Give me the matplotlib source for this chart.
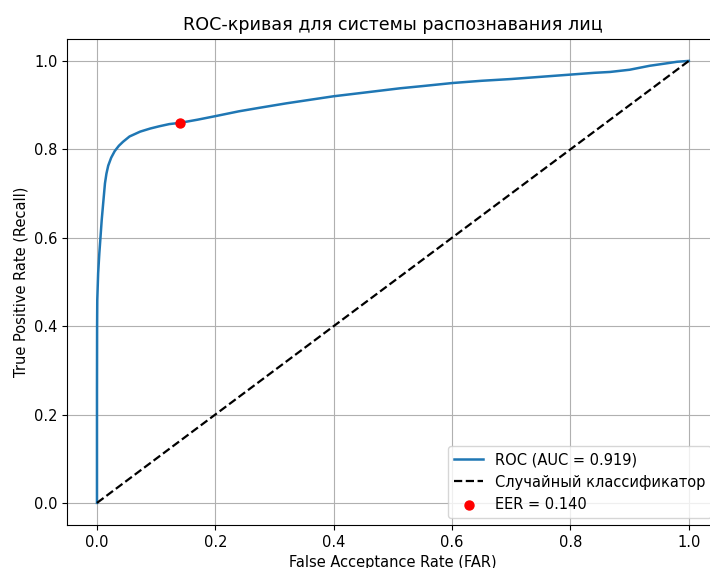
import matplotlib
matplotlib.use("Agg")
import matplotlib.pyplot as plt
import numpy as np

plt.rcParams["font.size"] = 10.5

# ROC curve points
fpr = [0.0, 0.0, 0.0002, 0.0005, 0.002, 0.004, 0.006, 0.008, 0.0105, 0.0135, 0.016, 0.019,
       0.024, 0.030, 0.037, 0.044, 0.055, 0.073, 0.09, 0.105, 0.122, 0.141, 0.17,
       0.2, 0.24, 0.275, 0.32, 0.36, 0.4, 0.45, 0.512, 0.55, 0.601, 0.65, 0.7,
       0.75, 0.8, 0.84, 0.867, 0.9, 0.934, 0.96, 0.98, 1.0]
tpr = [0.0, 0.25, 0.40, 0.459, 0.52, 0.565, 0.602, 0.64, 0.678, 0.723, 0.745, 0.763,
       0.781, 0.796, 0.808, 0.817, 0.829, 0.840, 0.847, 0.852, 0.857, 0.860, 0.867,
       0.875, 0.886, 0.894, 0.904, 0.912, 0.920, 0.928, 0.938, 0.943, 0.950, 0.955, 0.959,
       0.964, 0.969, 0.973, 0.975, 0.980, 0.989, 0.994, 0.998, 1.0]
auc_value = 0.919
eer_value = 0.140
eer_point = (0.141, 0.859)
diag = [0.0, 1.0]

fig = plt.figure(figsize=(7.1, 5.68), dpi=100)
ax = fig.add_axes([0.0949, 0.0757, 0.917, 0.856])

ax.plot(fpr, tpr, color="tab:blue", lw=1.8, label=f"ROC (AUC = {auc_value:.3f})")
ax.plot(diag, diag, "k--", lw=1.6, label="Случайный классификатор")
ax.scatter([eer_point[0]], [eer_point[1]], color="red", s=42, zorder=5,
           label=f"EER = {eer_value:.3f}")

ax.set_xlim(-0.05, 1.05)
ax.set_ylim(-0.05, 1.05)
ax.set_xticks([0.0, 0.2, 0.4, 0.6, 0.8, 1.0])
ax.set_yticks([0.0, 0.2, 0.4, 0.6, 0.8, 1.0])
ax.set_xlabel("False Acceptance Rate (FAR)")
ax.set_ylabel("True Positive Rate (Recall)")
ax.set_title("ROC-кривая для системы распознавания лиц", fontsize=12.6)
ax.grid(True)
ax.legend(loc="lower right")

fig.savefig("out.png", dpi=100)
